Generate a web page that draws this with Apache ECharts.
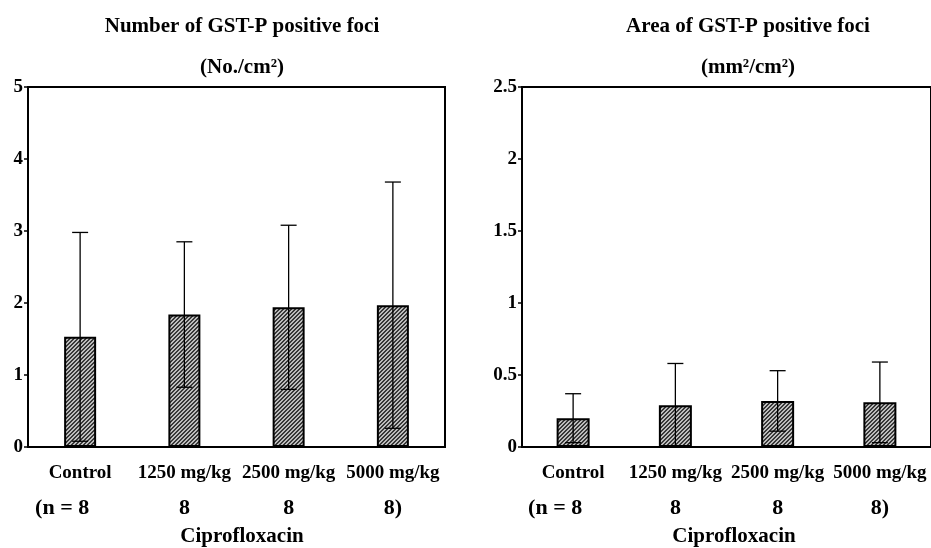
<!DOCTYPE html>
<html><head><meta charset="utf-8">
<script src="https://cdn.jsdelivr.net/npm/echarts@6/dist/echarts.min.js"></script>
<style>html,body{margin:0;padding:0;background:#fff}#c{width:931px;height:548px}</style>
</head><body><div id="c"></div>
<script>
const categories = ['Control', '1250 mg/kg', '2500 mg/kg', '5000 mg/kg'];
const nLabels = ['(n = 8', '8', '8', '8)'];
const numberMean = [1.53, 1.84, 1.94, 1.97];
const numberSD = [1.45, 1.01, 1.14, 1.71];
const areaMean = [0.20, 0.29, 0.32, 0.31];
const areaSD = [0.17, 0.29, 0.21, 0.28];
const leftTicks = [0, 1, 2, 3, 4, 5];
const rightTicks = [0, 0.5, 1, 1.5, 2, 2.5];

const FONT = 'Liberation Serif';

// hatch pattern
const pc = document.createElement('canvas');
pc.width = 4; pc.height = 4;
const px = pc.getContext('2d');
px.fillStyle = '#bdbdbd'; px.fillRect(0, 0, 4, 4);
px.fillStyle = '#383838';
for (let i = 0; i < 4; i++) {
  px.fillRect((3 - i) % 4, i, 1, 1);
  px.fillRect((4 - i) % 4, i, 1, 1);
}
const hatch = { image: pc, repeat: 'repeat' };

function errData(mean, sd) {
  return mean.map((m, i) => [i, m, sd[i]]);
}
function errRender(params, api) {
  const i = api.value(0), m = api.value(1), s = api.value(2);
  const top = api.coord([i, m + s]);
  const bot = api.coord([i, Math.max(m - s, 0)]);
  const x = top[0], w = 8;
  const st = { stroke: '#000', lineWidth: 1.3 };
  return { type: 'group', children: [
    { type: 'line', shape: { x1: x, y1: top[1], x2: x, y2: bot[1] }, style: st },
    { type: 'line', shape: { x1: x - w, y1: top[1], x2: x + w, y2: top[1] }, style: st },
    { type: 'line', shape: { x1: x - w, y1: bot[1], x2: x + w, y2: bot[1] }, style: st }
  ]};
}

function catAxis(grid) {
  return {
    type: 'category', gridIndex: grid, data: categories,
    axisLine: { lineStyle: { color: '#000', width: 2 } },
    axisTick: { alignWithLabel: true, length: 6, lineStyle: { color: '#000', width: 1.5 } },
    axisLabel: { color: '#000', fontFamily: FONT, fontWeight: 'bold', fontSize: 19, margin: 17, interval: 0 }
  };
}
function nAxis(grid) {
  return {
    type: 'category', gridIndex: grid, data: nLabels, position: 'bottom', offset: 50,
    axisLine: { show: false }, axisTick: { show: false },
    axisLabel: {
      interval: 0, margin: 0,
      formatter: (v, i) => i === 0 ? '{f|' + v + '}' : '{n|' + v + '}',
      rich: {
        f: { color: '#000', fontFamily: FONT, fontWeight: 'bold', fontSize: 22, padding: [0, 36, 0, 0] },
        n: { color: '#000', fontFamily: FONT, fontWeight: 'bold', fontSize: 22 }
      }
    }
  };
}
function valAxis(grid, max, interval) {
  return {
    type: 'value', gridIndex: grid, min: 0, max: max, interval: interval,
    splitLine: { show: false },
    axisLine: { show: true, lineStyle: { color: '#000', width: 2 } },
    axisTick: { show: true, length: 4, lineStyle: { color: '#000', width: 1.5 } },
    axisLabel: { color: '#000', fontFamily: FONT, fontWeight: 'bold', fontSize: 19, margin: 5 }
  };
}
const titleStyle = { color: '#000', fontFamily: FONT, fontWeight: 'bold', fontSize: 21 };

const chart = echarts.init(document.getElementById('c'), null, { renderer: 'canvas' });
chart.setOption({
  animation: false,
  title: [
    { text: 'Number of GST-P positive foci', left: 237, top: 11, textAlign: 'center', textStyle: titleStyle },
    { text: '(No./cm²)', left: 237, top: 52, textAlign: 'center', textStyle: titleStyle },
    { text: 'Area of GST-P positive foci', left: 743, top: 11, textAlign: 'center', textStyle: titleStyle },
    { text: '(mm²/cm²)', left: 743, top: 52, textAlign: 'center', textStyle: titleStyle },
    { text: 'Ciprofloxacin', left: 237, top: 521, textAlign: 'center', textStyle: titleStyle },
    { text: 'Ciprofloxacin', left: 729, top: 521, textAlign: 'center', textStyle: titleStyle }
  ],
  grid: [
    { left: 28, top: 87, width: 417, height: 360, show: true, borderColor: '#000', borderWidth: 2, backgroundColor: 'transparent' },
    { left: 522, top: 87, width: 412, height: 360, show: true, borderColor: '#000', borderWidth: 2, backgroundColor: 'transparent' }
  ],
  xAxis: [catAxis(0), catAxis(1), nAxis(0), nAxis(1)],
  yAxis: [valAxis(0, 5, 1), valAxis(1, 2.5, 0.5)],
  series: [
    { type: 'bar', xAxisIndex: 0, yAxisIndex: 0, data: numberMean, barWidth: 32,
      itemStyle: { color: hatch, borderColor: '#000', borderWidth: 2 } },
    { type: 'custom', xAxisIndex: 0, yAxisIndex: 0, data: errData(numberMean, numberSD), renderItem: errRender, z: 5 },
    { type: 'bar', xAxisIndex: 1, yAxisIndex: 1, data: areaMean, barWidth: 33,
      itemStyle: { color: hatch, borderColor: '#000', borderWidth: 2 } },
    { type: 'custom', xAxisIndex: 1, yAxisIndex: 1, data: errData(areaMean, areaSD), renderItem: errRender, z: 5 }
  ]
});
</script></body></html>
